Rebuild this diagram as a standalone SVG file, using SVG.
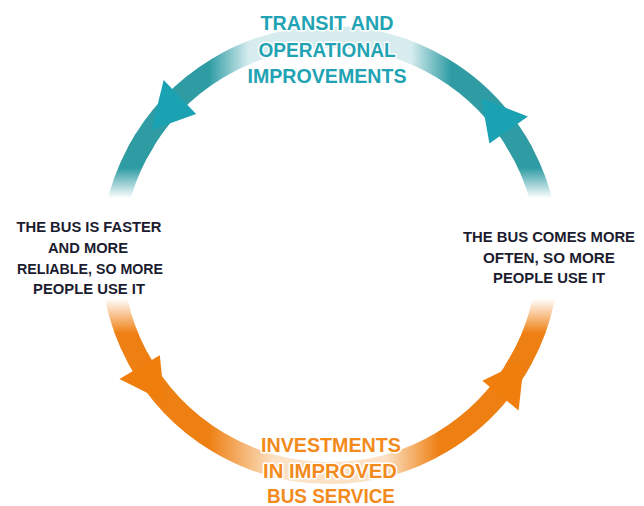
<svg xmlns="http://www.w3.org/2000/svg" width="644" height="506" viewBox="0 0 644 506">
  <style>
    .arc { fill: none; stroke-width: 22; stroke-linecap: butt; }
    .head-teal { fill: #1ba2b2; }
    .head-orange { fill: #f07e0c; }
    .title { font-family: "Liberation Sans", Arial, sans-serif; font-weight: bold; font-size: 20px; text-anchor: middle; stroke: #ffffff; stroke-width: 3; stroke-linejoin: round; paint-order: stroke; }
    .title-teal { fill: #22a3b4; }
    .title-orange { fill: #f28a1c; }
    .side { font-family: "Liberation Sans", Arial, sans-serif; font-weight: bold; font-size: 14.5px; text-anchor: middle; fill: #1c1c30; }
  </style>
  <defs>
    <linearGradient id="gTop" gradientUnits="userSpaceOnUse" x1="141" y1="0" x2="519" y2="0">
      <stop offset="0" stop-color="#2f9ca4"/>
      <stop offset="0.18" stop-color="#2f9ca4"/>
      <stop offset="0.285" stop-color="#d6ecee"/>
      <stop offset="0.715" stop-color="#d6ecee"/>
      <stop offset="0.82" stop-color="#2f9ca4"/>
      <stop offset="1" stop-color="#2f9ca4"/>
    </linearGradient>
    <linearGradient id="gSide" gradientUnits="userSpaceOnUse" x1="0" y1="146" x2="0" y2="364">
      <stop offset="0" stop-color="#2f9ca4"/>
      <stop offset="0.10" stop-color="#2f9ca4"/>
      <stop offset="0.24" stop-color="#ffffff"/>
      <stop offset="0.70" stop-color="#ffffff"/>
      <stop offset="0.86" stop-color="#ee7f12"/>
      <stop offset="1" stop-color="#ee7f12"/>
    </linearGradient>
    <linearGradient id="gBottom" gradientUnits="userSpaceOnUse" x1="141" y1="0" x2="519" y2="0">
      <stop offset="0" stop-color="#ee7f12"/>
      <stop offset="0.177" stop-color="#ee7f12"/>
      <stop offset="0.354" stop-color="#fbe2c6"/>
      <stop offset="0.646" stop-color="#fbe2c6"/>
      <stop offset="0.79" stop-color="#ee7f12"/>
      <stop offset="1" stop-color="#ee7f12"/>
    </linearGradient>
  </defs>

  <g id="connectors">
    <path class="arc" stroke="url(#gSide)" d="M 145.1,370.5 A 218 218 0 0 1 145.1,139.5"/>
    <path class="arc" stroke="url(#gSide)" d="M 514.9,139.5 A 218 218 0 0 1 514.9,370.5"/>
    <path class="arc" stroke="url(#gTop)" d="M 137.5,152.6 A 218 218 0 0 1 522.5,152.6"/>
    <path class="arc" stroke="url(#gBottom)" d="M 522.5,357.4 A 218 218 0 0 1 137.5,357.4"/>
    <polygon class="head-teal" points="163.7,79.9 196.1,113.9 151.4,130.0"/>
    <polygon class="head-teal" points="527.9,116.5 489.4,143.5 481.4,98.2"/>
    <polygon class="head-orange" points="119.4,379.1 159.8,355.3 164.5,401.4"/>
    <polygon class="head-orange" points="518.6,410.5 482.4,380.7 524.2,360.5"/>
  </g>

  <g id="node-top">
    <text class="title title-teal" x="327" y="30" textLength="133" lengthAdjust="spacingAndGlyphs">TRANSIT AND</text>
    <text class="title title-teal" x="327" y="57" textLength="137" lengthAdjust="spacingAndGlyphs">OPERATIONAL</text>
    <text class="title title-teal" x="327" y="83" textLength="159" lengthAdjust="spacingAndGlyphs">IMPROVEMENTS</text>
  </g>

  <g id="node-right">
    <text class="side" x="549" y="242" textLength="172" lengthAdjust="spacingAndGlyphs">THE BUS COMES MORE</text>
    <text class="side" x="549" y="263" textLength="132" lengthAdjust="spacingAndGlyphs">OFTEN, SO MORE</text>
    <text class="side" x="549" y="283" textLength="112" lengthAdjust="spacingAndGlyphs">PEOPLE USE IT</text>
  </g>

  <g id="node-bottom">
    <text class="title title-orange" x="331" y="452" textLength="140" lengthAdjust="spacingAndGlyphs">INVESTMENTS</text>
    <text class="title title-orange" x="330" y="478" textLength="134" lengthAdjust="spacingAndGlyphs">IN IMPROVED</text>
    <text class="title title-orange" x="331" y="503" textLength="128" lengthAdjust="spacingAndGlyphs">BUS SERVICE</text>
  </g>

  <g id="node-left">
    <text class="side" x="89" y="232" textLength="145" lengthAdjust="spacingAndGlyphs">THE BUS IS FASTER</text>
    <text class="side" x="88" y="253" textLength="80" lengthAdjust="spacingAndGlyphs">AND MORE</text>
    <text class="side" x="90" y="274" textLength="146" lengthAdjust="spacingAndGlyphs">RELIABLE, SO MORE</text>
    <text class="side" x="89" y="294" textLength="112" lengthAdjust="spacingAndGlyphs">PEOPLE USE IT</text>
  </g>
</svg>
